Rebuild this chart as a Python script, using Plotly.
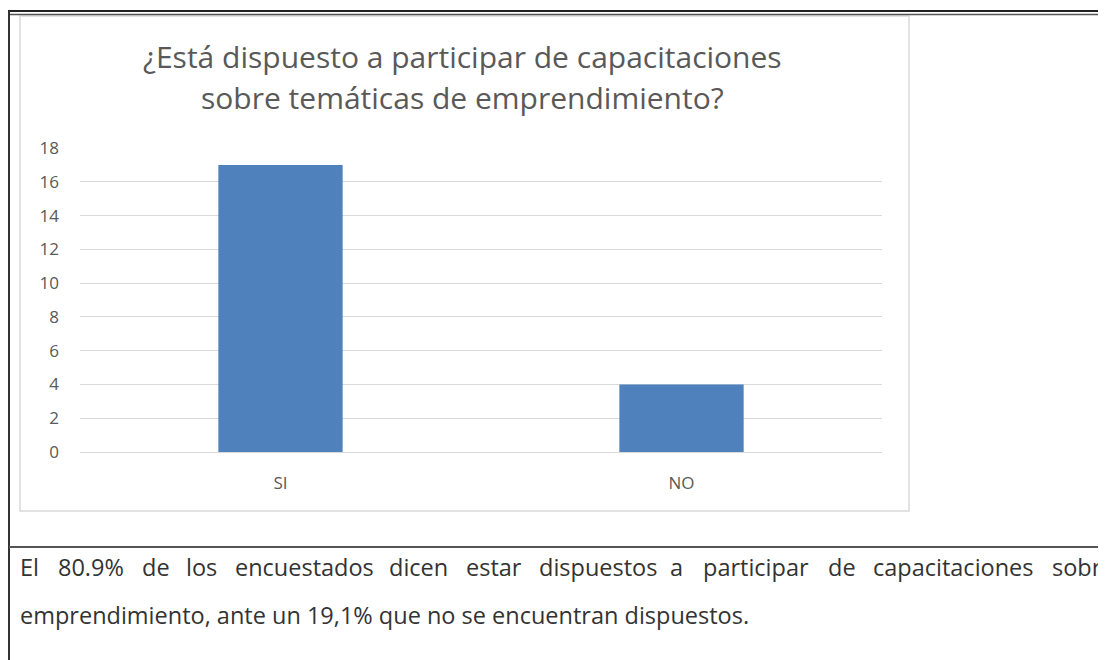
import plotly.graph_objects as go

W, H = 1106, 660
OFF = 8  # page body margin offset compensation

categories = ["SI", "NO"]
values = [17, 4]
y_ticks = [0, 2, 4, 6, 8, 10, 12, 14, 16, 18]

title_lines = ["¿Está dispuesto a participar de capacitaciones",
               "sobre temáticas de emprendimiento?"]
body_line1_words = ["El", "80.9%", "de", "los", "encuestados", "dicen", "estar",
                    "dispuestos", "a", "participar", "de", "capacitaciones", "sobre"]
body_line2 = "emprendimiento, ante un 19,1% que no se encuentran dispuestos."

# layout positions (pixels) for justified first line
word_x = [20, 58, 142, 186, 235, 389, 466, 539, 670, 703, 828, 873, 1052]

def px(x):
    return (x - OFF) / W

def py(y):
    return 1 - (y - OFF) / H

fig = go.Figure(go.Bar(
    x=categories, y=values,
    marker=dict(color="#4f81bd", line=dict(width=0)),
    width=0.31,
    hoverinfo="x+y",
))

grid_col = "#d9d9d9"
tick_col = "#595959"
font_main = "Open Sans"

fig.update_layout(
    width=W, height=H,
    margin=dict(l=0, r=0, t=0, b=0, pad=0, autoexpand=False),
    paper_bgcolor="white",
    plot_bgcolor="white",
    showlegend=False,
    xaxis=dict(
        domain=[px(80), px(882)],
        anchor="y",
        showgrid=False, zeroline=False, showline=False,
        tickfont=dict(family=font_main, size=17, color=tick_col),
        ticks="", ticklabelstandoff=19,
        automargin=False,
        fixedrange=True,
    ),
    yaxis=dict(
        domain=[py(452), py(148)],
        range=[0, 18],
        tickvals=y_ticks,
        showgrid=True, gridcolor=grid_col, gridwidth=1,
        zeroline=True, zerolinecolor=grid_col, zerolinewidth=1,
        showline=False,
        tickfont=dict(family=font_main, size=17, color=tick_col),
        ticks="", ticklabelstandoff=20,
        automargin=False,
        fixedrange=True,
    ),
)

shapes = []
# chart frame
shapes.append(dict(type="rect", xref="paper", yref="paper",
                   x0=px(20), x1=px(909), y0=py(511), y1=py(16),
                   line=dict(color="#d9d9d9", width=1.5), layer="below"))
# top double border
shapes.append(dict(type="line", xref="paper", yref="paper",
                   x0=px(6), x1=1, y0=py(11), y1=py(11),
                   line=dict(color="#222222", width=2)))
shapes.append(dict(type="line", xref="paper", yref="paper",
                   x0=px(8), x1=1, y0=py(14.5), y1=py(14.5),
                   line=dict(color="#555555", width=1.5)))
# left vertical border
shapes.append(dict(type="line", xref="paper", yref="paper",
                   x0=px(9), x1=px(9), y0=py(11), y1=0,
                   line=dict(color="#333333", width=2)))
# horizontal separator
shapes.append(dict(type="line", xref="paper", yref="paper",
                   x0=px(9), x1=1, y0=py(547), y1=py(547),
                   line=dict(color="#555555", width=2)))
fig.update_layout(shapes=shapes)

annotations = []
title_y = [56, 97]
for line, yy in zip(title_lines, title_y):
    annotations.append(dict(text=line, xref="paper", yref="paper",
                            x=px(462), y=py(yy), xanchor="center", yanchor="middle",
                            showarrow=False,
                            font=dict(family=font_main, size=30, color="#595959")))
for w, xx in zip(body_line1_words, word_x):
    annotations.append(dict(text=w, xref="paper", yref="paper",
                            x=px(xx), y=py(567), xanchor="left", yanchor="middle",
                            showarrow=False, xshift=-2,
                            font=dict(family=font_main, size=23.5, color="#333333")))
annotations.append(dict(text=body_line2, xref="paper", yref="paper",
                        x=px(20), y=py(615), xanchor="left", yanchor="middle",
                        showarrow=False, xshift=-2,
                        font=dict(family=font_main, size=23.5, color="#333333")))
fig.update_layout(annotations=annotations)

fig.write_html("out.html")
